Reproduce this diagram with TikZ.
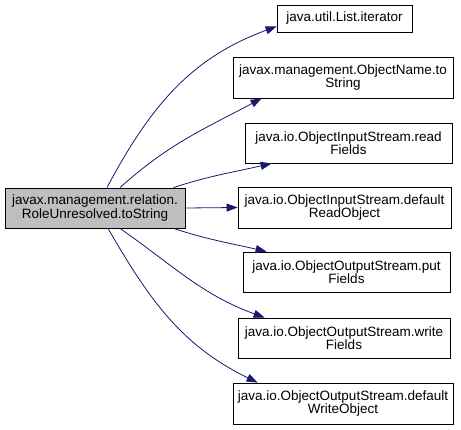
\documentclass[tikz,border=0pt]{standalone}
\usepackage{fontspec}
\setmainfont{Liberation Sans}
\usetikzlibrary{arrows.meta}
\definecolor{edgeblue}{HTML}{191970}
\definecolor{mainfill}{HTML}{BFBFBF}
\tikzset{
  fn/.style={draw=black, line width=0.8pt, fill=white, align=center, inner sep=0pt,
    font=\fontsize{13.5}{13.5}\selectfont},
  callee/.style={fn},
  edge/.style={draw=edgeblue, line width=0.8pt, -{Triangle[length=11pt,width=8pt]}},
}
\begin{document}
\begin{tikzpicture}[x=1pt,y=-1pt]
\useasboundingbox (0,0) rectangle (461,430);
\node[fn, fill=mainfill, minimum width=180, minimum height=40] (main) at (95,208) {javax.management.relation.\\RoleUnresolved.toString};
\node[callee, minimum width=135, minimum height=27] (n1) at (344.5,18.5) {java.util.List.iterator};
\node[callee, minimum width=220, minimum height=41] (n2) at (343,77.5) {javax.management.ObjectName.to\\String};
\node[callee, minimum width=207, minimum height=40] (n3) at (348.5,143) {java.io.ObjectInputStream.read\\Fields};
\node[callee, minimum width=213, minimum height=41] (n4) at (344.5,207.5) {java.io.ObjectInputStream.default\\ReadObject};
\node[callee, minimum width=207, minimum height=40] (n5) at (346.5,272) {java.io.ObjectOutputStream.put\\Fields};
\node[callee, minimum width=212, minimum height=40] (n6) at (344,338) {java.io.ObjectOutputStream.write\\Fields};
\node[callee, minimum width=220, minimum height=41] (n7) at (343,403.5) {java.io.ObjectOutputStream.default\\WriteObject};

\draw[edge] ([xshift=12pt]main.north) to[out=62,in=200] ([yshift=-8pt]n1.west);
\draw[edge] ([xshift=25pt]main.north) to[out=42,in=208] ([xshift=29pt]n2.south west);
\draw[edge] ([xshift=-12pt]main.north east) to[out=18,in=193] ([xshift=27pt]n3.south west);
\draw[edge] (main.east) -- (n4.west);
\draw[edge] ([xshift=-12pt]main.south east) to[out=-18,in=167] ([xshift=24pt]n5.north west);
\draw[edge] ([xshift=25pt]main.south) to[out=-35,in=160] ([xshift=27pt]n6.north west);
\draw[edge] ([xshift=13pt]main.south) to[out=-60,in=154] ([xshift=25pt]n7.north west);
\end{tikzpicture}
\end{document}
